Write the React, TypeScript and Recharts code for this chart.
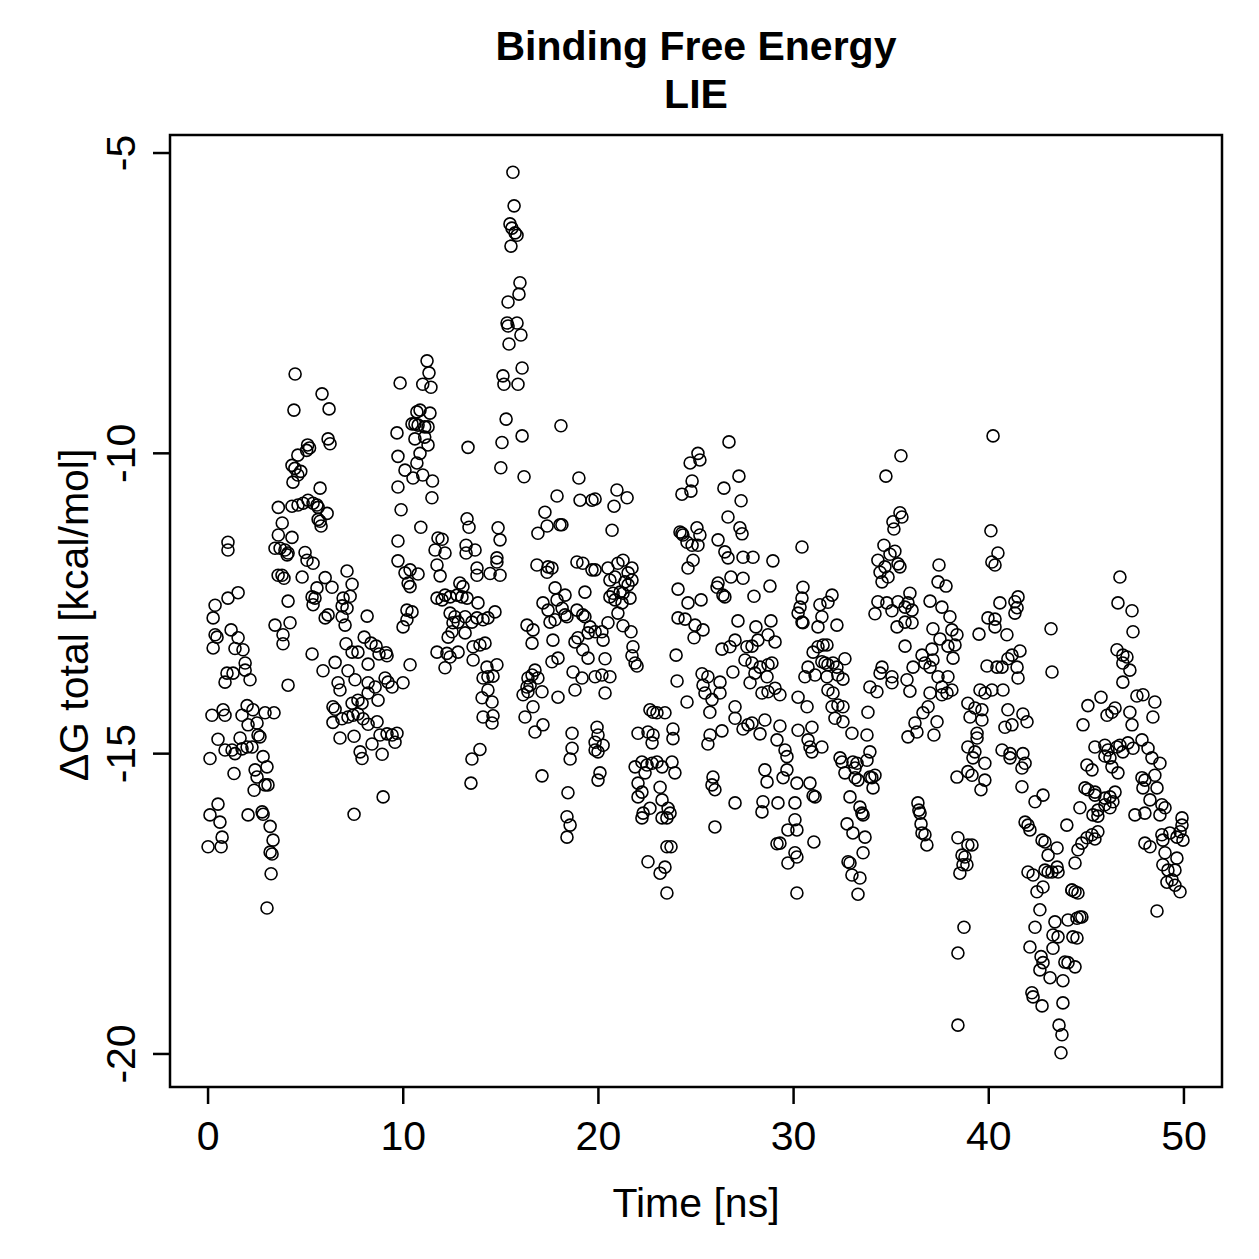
import { ScatterChart, Scatter, XAxis, YAxis, ReferenceArea } from 'recharts';

// LIE binding free energy per frame: [time (ns), dG total (kcal/mol)]
const seg00to10: [number, number][] = [
  [4.46, -8.68], [5.84, -9.01], [4.4, -9.28], [6.2, -9.26], [6.15, -9.76], [6.25, -9.84], [5.1, -9.86], [5.2, -9.91],
  [5.05, -9.95], [4.6, -10.03], [4.3, -10.2], [4.45, -10.25], [4.75, -10.3], [4.6, -10.36], [4.35, -10.48], [5.74, -10.58],
  [3.6, -10.9], [4.3, -10.88], [4.61, -10.86], [4.87, -10.83], [5.12, -10.78], [5.38, -10.83], [5.64, -10.9], [5.58, -10.86],
  [6.1, -11.0], [5.64, -11.1], [5.74, -11.13], [5.79, -11.21], [3.8, -11.16], [3.6, -11.36], [4.3, -11.4],
  [3.43, -11.58], [3.69, -11.58], [3.94, -11.61], [4.05, -11.69], [4.1, -11.66], [1.02, -11.48], [1.02, -11.61],
  [4.97, -11.65], [5.07, -11.78], [5.38, -11.83], [3.59, -12.03], [3.79, -12.03], [3.89, -12.08], [4.82, -12.06], [7.12, -11.96],
  [7.38, -12.18], [7.28, -12.38], [6.92, -12.41], [6.87, -12.54], [7.12, -12.58], [6.0, -12.07], [6.35, -12.23],
  [5.58, -12.24], [5.33, -12.39], [5.48, -12.41], [5.38, -12.52], [4.1, -12.46], [1.54, -12.32], [1.02, -12.41],
  [0.36, -12.53], [0.26, -12.74], [3.43, -12.86], [4.2, -12.82], [3.84, -13.02], [3.84, -13.17],
  [6.0, -12.74], [6.15, -12.69], [6.87, -12.72], [7.02, -12.86], [8.15, -12.71],
  [1.18, -12.94], [1.54, -13.07], [1.38, -13.25], [1.79, -13.27], [1.9, -13.49], [0.36, -13.02], [0.46, -13.06], [0.26, -13.24],
  [5.33, -13.34], [7.07, -13.17], [7.38, -13.31], [7.68, -13.31], [8.0, -13.06], [8.35, -13.16], [8.61, -13.21], [8.76, -13.34],
  [9.12, -13.32], [9.17, -13.37], [8.2, -13.51], [5.89, -13.62], [6.51, -13.48], [6.66, -13.82], [7.17, -13.62], [6.76, -13.94],
  [0.97, -13.66], [1.28, -13.66], [1.9, -13.61], [2.15, -13.77], [0.87, -13.81], [4.1, -13.86],
  [7.53, -13.77], [8.2, -13.82], [8.56, -13.89], [9.07, -13.74], [9.22, -13.81], [9.43, -13.89],
  [0.2, -14.36], [0.77, -14.27], [0.87, -14.36], [1.74, -14.36], [2.0, -14.2], [2.3, -14.27], [2.92, -14.32], [3.38, -14.32],
  [2.05, -14.52], [2.51, -14.49], [2.56, -14.69], [2.66, -14.72], [1.64, -14.74], [0.51, -14.76],
  [0.87, -14.94], [1.23, -14.94], [1.38, -15.0], [1.74, -14.92], [2.0, -14.89], [2.25, -14.89], [0.1, -15.08], [1.33, -15.33],
  [2.82, -15.05], [3.02, -15.22], [2.41, -15.27], [2.51, -15.39], [2.36, -15.61], [2.92, -15.52], [3.07, -15.52],
  [0.51, -15.84], [0.1, -16.02], [0.61, -16.14], [0.72, -16.39], [0.0, -16.55], [0.67, -16.55],
  [2.05, -16.02], [2.77, -15.97], [2.82, -16.01], [3.18, -16.21], [3.33, -16.44], [3.18, -16.64], [3.28, -16.67],
  [3.23, -17.0], [3.02, -17.57],
  [6.4, -14.22], [6.51, -14.26], [7.38, -14.16], [7.68, -14.11], [7.89, -14.16], [8.2, -13.99], [8.71, -14.11],
  [6.86, -14.42], [7.17, -14.39], [7.43, -14.36], [7.68, -14.34], [7.94, -14.42], [8.2, -14.51], [8.66, -14.47],
  [6.4, -14.48], [6.76, -14.74], [7.48, -14.71], [8.4, -14.84], [8.81, -14.69], [9.17, -14.67], [9.43, -14.69],
  [8.92, -15.01], [7.79, -14.97], [7.89, -15.08], [8.97, -15.72], [7.48, -16.01],
  [9.84, -8.83], [9.68, -9.66], [9.73, -10.05], [9.73, -10.56], [9.89, -10.94], [9.73, -11.46], [9.73, -11.79],
  [9.99, -12.89], [9.99, -13.82], [9.68, -14.66], [9.58, -14.81],
];

const seg10to20: [number, number][] = [
  [15.62, -5.32], [15.68, -5.88], [15.47, -6.18], [15.57, -6.25], [15.73, -6.33], [15.83, -6.37], [15.52, -6.55],
  [15.98, -7.16], [15.93, -7.35], [15.37, -7.48], [15.32, -7.83], [15.37, -7.88], [15.83, -7.83], [16.03, -8.03], [15.42, -8.18],
  [16.09, -8.58], [15.11, -8.71], [15.16, -8.85], [15.88, -8.85], [15.27, -9.43], [15.06, -9.82], [16.09, -9.71],
  [15.0, -10.24], [16.19, -10.39],
  [11.22, -8.46], [11.32, -8.66], [11.0, -8.85], [11.42, -8.9], [10.7, -9.31], [10.86, -9.28], [11.37, -9.33],
  [10.45, -9.51], [10.6, -9.51], [10.76, -9.53], [11.1, -9.56], [11.27, -9.56], [10.6, -9.76], [11.1, -9.73], [11.27, -9.86],
  [10.86, -10.0], [10.7, -10.16], [10.09, -10.28], [10.5, -10.41], [11.0, -10.36], [11.5, -10.46], [11.47, -10.74],
  [13.32, -9.9], [18.08, -9.54], [10.9, -11.23],
  [13.27, -11.09], [13.37, -11.23], [13.22, -11.53], [13.68, -11.61], [13.22, -11.66],
  [11.78, -11.41], [11.99, -11.43], [11.63, -11.61], [12.14, -11.66], [14.86, -11.24], [14.96, -11.44], [14.8, -11.74],
  [17.88, -10.71], [17.26, -10.98], [16.9, -11.33], [17.37, -11.21], [18.03, -11.19], [18.13, -11.19],
  [19.0, -10.41], [19.06, -10.78], [19.67, -10.78],
  [11.73, -11.86], [11.89, -12.04], [10.09, -11.99], [10.35, -11.94], [10.76, -12.01], [10.25, -12.16], [10.35, -12.22],
  [13.78, -11.91], [13.78, -12.03], [14.45, -12.0], [14.96, -12.03], [14.8, -11.81],
  [12.9, -12.16], [13.06, -12.22], [11.73, -12.41], [11.99, -12.44], [12.14, -12.36], [12.4, -12.39], [12.76, -12.36],
  [13.01, -12.39], [13.27, -12.41], [13.83, -12.49], [12.4, -12.66], [12.65, -12.72], [12.55, -12.82], [12.81, -12.81],
  [13.17, -12.72], [13.52, -12.81], [13.78, -12.74], [14.09, -12.77], [14.34, -12.74], [14.7, -12.64], [12.3, -13.06],
  [12.5, -12.97], [13.17, -12.99], [13.58, -13.22], [13.93, -13.19], [14.19, -13.16], [11.73, -13.31], [12.24, -13.33],
  [12.4, -13.39], [12.81, -13.31], [12.14, -13.57], [13.58, -13.44],
  [14.29, -13.56], [14.8, -13.52], [14.09, -13.74], [14.34, -13.72], [14.6, -13.71], [14.34, -13.94], [14.04, -14.07],
  [14.55, -14.14], [14.09, -14.39], [14.6, -14.37], [14.55, -14.49], [13.93, -14.93], [13.52, -15.09], [13.47, -15.49],
  [10.35, -13.52], [10.19, -12.61], [10.45, -12.64], [10.19, -12.77],
  [16.85, -11.86], [17.42, -11.89], [17.62, -11.91], [17.37, -11.98], [18.9, -11.81], [19.2, -11.83], [19.67, -11.94],
  [17.78, -12.24], [18.29, -12.36], [17.16, -12.49], [17.42, -12.61], [17.88, -12.44], [18.14, -12.58], [18.29, -12.69],
  [18.39, -12.72], [18.9, -12.61], [19.2, -12.69], [19.31, -12.72], [19.57, -12.89], [17.52, -12.81], [17.78, -12.77],
  [19.31, -12.31], [19.47, -12.99], [19.83, -12.97], [16.34, -12.86], [16.65, -12.94], [16.6, -13.16], [17.67, -13.11],
  [18.8, -13.14], [18.95, -13.07], [19.2, -13.27], [19.47, -13.41], [17.62, -13.47], [17.93, -13.41],
  [16.75, -13.61], [16.6, -13.69], [16.39, -13.74], [16.9, -13.74], [16.34, -13.89], [16.5, -13.86], [16.14, -14.02],
  [16.39, -13.97], [17.11, -13.97], [16.65, -14.22], [16.24, -14.39], [16.75, -14.64], [17.16, -14.52], [17.93, -14.06],
  [18.7, -13.64], [18.8, -13.94], [19.16, -13.74], [18.65, -14.66], [18.65, -14.91], [18.55, -15.09],
  [17.11, -15.37], [18.44, -15.65], [18.39, -16.05], [18.55, -16.19], [18.39, -16.39],
  [19.83, -10.76], [19.83, -11.94], [19.83, -13.72], [19.93, -14.56], [19.98, -14.69], [19.83, -14.81],
  [19.98, -14.97], [19.98, -15.44], [19.83, -14.94],
];

const seg20to30: [number, number][] = [
  [20.95, -10.61], [21.47, -10.74], [20.8, -10.88], [20.7, -11.28],
  [21.26, -11.78], [21.0, -11.83], [21.72, -11.91], [20.49, -11.91], [21.52, -11.99], [20.85, -12.06], [20.59, -12.11],
  [21.36, -12.14], [21.52, -12.19], [21.72, -12.11], [21.11, -12.31], [21.26, -12.33], [20.75, -12.33], [20.59, -12.39],
  [21.62, -12.41], [20.85, -12.44], [21.21, -12.49], [21.0, -12.66], [20.49, -12.82], [21.26, -12.87], [21.67, -12.97],
  [20.18, -12.97], [20.24, -13.11], [21.77, -13.22], [21.72, -13.37], [21.98, -13.54], [21.88, -13.49], [20.34, -13.42],
  [20.18, -13.69], [20.59, -13.72], [20.34, -13.99], [20.24, -14.86], [20.08, -15.32],
  [26.69, -9.81], [25.1, -10.0], [25.2, -10.11], [24.7, -10.16], [24.8, -10.46], [24.28, -10.68], [24.74, -10.63],
  [27.2, -10.38], [26.43, -10.58], [27.31, -10.79], [26.64, -11.06], [27.25, -11.24], [27.36, -11.34],
  [24.18, -11.31], [24.28, -11.33], [24.33, -11.36], [24.54, -11.48], [25.05, -11.24], [25.2, -11.36], [24.8, -11.53],
  [25.1, -11.53], [24.85, -11.78], [24.59, -11.91],
  [26.13, -11.44], [26.48, -11.64], [26.64, -11.74], [27.41, -11.73], [27.92, -11.73], [28.94, -11.79], [26.79, -12.06],
  [27.41, -12.08], [26.13, -12.16], [26.08, -12.23], [26.48, -12.39], [26.38, -12.36], [27.97, -12.38], [28.79, -12.21],
  [24.08, -12.26], [24.59, -12.49], [25.26, -12.44], [24.08, -12.74], [24.44, -12.76], [24.95, -12.86], [25.36, -12.94],
  [24.9, -13.07], [27.15, -12.79], [28.07, -12.89], [28.84, -12.79], [29.05, -13.14], [28.17, -13.11], [28.69, -13.02],
  [27.87, -13.21], [27.0, -13.11], [26.74, -13.22], [26.33, -13.26], [27.61, -13.22],
  [23.98, -13.36], [24.03, -13.79], [25.31, -13.67], [25.61, -13.72], [25.36, -13.86], [26.23, -13.81], [26.23, -13.99],
  [25.46, -13.99], [26.89, -13.64], [27.51, -13.44], [27.87, -13.49], [28.28, -13.56], [28.69, -13.52], [28.89, -13.49],
  [28.02, -13.66], [28.64, -13.72], [27.77, -13.82], [28.69, -13.97], [29.05, -13.91], [28.38, -13.99], [29.3, -14.02],
  [22.64, -14.27], [22.8, -14.31], [23.0, -14.32], [23.41, -14.32], [22.03, -14.66], [22.54, -14.64], [22.8, -14.69],
  [22.75, -14.82], [23.82, -14.59], [23.82, -14.75],
  [21.88, -15.22], [22.23, -15.14], [22.49, -15.19], [22.75, -15.16], [23.0, -15.14], [23.26, -15.22], [23.77, -15.14],
  [23.92, -15.32], [22.39, -15.32], [22.03, -15.49], [22.23, -15.64], [23.16, -15.56], [23.26, -15.77], [22.03, -15.72],
  [22.64, -15.91], [22.29, -15.99], [22.23, -16.07], [23.26, -16.07], [23.51, -16.07], [23.57, -15.91], [23.67, -15.99],
  [23.51, -16.55], [23.72, -16.55], [22.54, -16.8], [23.41, -16.89], [23.16, -16.99], [23.51, -17.32],
  [24.54, -14.14], [25.82, -14.1], [25.71, -14.31], [27.0, -14.22], [27.0, -14.41],
  [25.72, -14.69], [26.33, -14.62], [25.61, -14.84], [27.41, -14.59], [27.66, -14.52], [27.87, -14.49], [28.28, -14.67],
  [28.53, -14.44], [29.15, -14.77], [29.3, -14.54], [29.56, -14.94], [29.66, -15.05],
  [25.87, -15.39], [25.82, -15.52], [25.97, -15.6], [27.0, -15.82], [25.97, -16.22],
  [28.53, -15.27], [28.64, -15.47], [29.46, -15.4], [29.66, -15.27], [28.43, -15.8], [28.38, -15.97], [29.2, -15.82],
  [29.71, -16.27], [29.15, -16.5], [29.3, -16.49], [29.71, -16.82],
];

const seg30to40: [number, number][] = [
  [35.5, -10.04], [34.73, -10.38], [35.45, -10.99], [35.55, -11.06], [35.09, -11.14], [35.14, -11.26],
  [34.63, -11.53], [35.19, -11.63], [34.94, -11.68], [34.32, -11.78], [35.35, -11.84], [35.45, -11.89], [34.68, -11.89],
  [34.43, -11.98], [34.84, -12.06], [34.53, -12.14], [37.45, -11.86], [37.4, -12.14], [37.81, -12.21], [30.43, -11.56],
  [30.48, -12.23], [30.43, -12.41], [30.33, -12.56], [30.23, -12.66], [30.43, -12.81], [30.48, -12.82],
  [31.97, -12.36], [31.76, -12.48], [31.35, -12.52], [31.45, -12.72], [31.25, -12.89], [32.22, -12.86],
  [34.32, -12.47], [34.78, -12.49], [35.04, -12.62], [34.17, -12.67], [35.35, -12.47], [35.71, -12.56], [35.96, -12.33],
  [36.07, -12.61], [35.86, -12.49], [35.3, -12.89], [35.71, -12.81], [36.07, -12.82],
  [36.99, -12.46], [37.6, -12.56], [38.01, -12.72], [37.14, -12.92], [37.5, -13.09], [38.11, -12.94], [38.37, -13.02],
  [37.91, -13.21], [38.27, -13.19], [38.17, -13.41], [35.71, -13.21],
  [39.5, -13.01], [39.96, -12.74], [39.91, -13.54],
  [31.25, -13.22], [31.51, -13.19], [31.71, -13.19], [31.0, -13.31], [31.45, -13.47], [31.61, -13.49], [31.76, -13.52],
  [32.02, -13.49], [32.22, -13.56], [32.63, -13.42], [30.74, -13.56], [30.58, -13.72], [31.1, -13.69], [31.71, -13.72],
  [32.27, -13.69], [32.53, -13.76], [31.76, -13.94], [32.02, -13.99], [30.23, -14.06],
  [34.53, -13.56], [34.43, -13.66], [35.04, -13.72], [35.04, -13.82], [33.91, -13.89], [34.27, -13.97], [35.81, -13.77],
  [35.96, -13.96], [36.12, -13.56], [36.58, -13.36], [37.09, -13.26], [36.73, -13.49], [36.99, -13.56], [37.14, -13.44],
  [37.4, -13.72], [37.91, -13.72], [37.6, -13.89], [38.11, -13.94], [36.99, -13.99], [37.86, -13.99],
  [39.55, -13.94], [39.81, -13.99],
  [30.69, -14.22], [30.23, -14.61], [30.94, -14.56], [30.74, -14.77], [30.84, -14.89], [31.45, -14.89], [30.94, -14.97],
  [30.17, -15.49], [30.84, -15.49], [31.0, -15.7], [31.1, -15.72], [30.07, -15.82], [30.07, -16.1], [30.17, -16.27],
  [31.04, -16.47], [30.07, -16.65], [30.17, -16.72], [30.17, -17.32],
  [31.97, -14.22], [32.27, -14.19], [32.53, -14.22], [32.12, -14.41], [32.53, -14.47], [32.99, -14.66], [33.76, -14.69],
  [33.81, -14.31], [32.38, -15.07], [32.48, -15.14], [33.04, -15.14], [33.25, -15.16], [33.15, -15.24], [33.76, -15.11],
  [33.91, -14.97], [32.63, -15.32], [33.15, -15.4], [33.3, -15.44], [33.91, -15.39], [34.01, -15.4], [34.17, -15.36],
  [34.07, -15.57], [32.89, -15.72], [33.4, -15.89], [33.5, -15.99], [33.56, -16.02], [32.74, -16.17], [33.04, -16.32],
  [33.66, -16.39], [33.56, -16.65], [32.79, -16.8], [32.89, -16.82], [32.99, -17.02], [33.4, -17.07], [33.3, -17.34],
  [36.22, -14.49], [36.63, -14.32], [36.89, -14.22], [37.35, -14.47], [37.19, -14.69], [35.86, -14.72], [36.32, -14.64],
  [37.6, -14.02], [36.37, -15.82], [36.42, -15.94], [36.48, -15.99], [36.53, -16.17], [36.58, -16.32], [36.73, -16.35],
  [36.83, -16.52],
  [38.93, -14.16], [39.29, -14.24], [39.65, -14.44], [39.04, -14.39], [39.65, -14.27], [39.4, -14.66], [39.4, -14.74],
  [38.93, -14.89], [39.29, -14.97], [39.19, -15.07], [39.8, -15.16], [38.37, -15.39], [38.93, -15.3], [39.14, -15.36],
  [39.8, -15.44], [39.6, -15.6], [38.42, -16.4], [38.93, -16.52], [39.14, -16.52], [38.63, -16.69], [38.78, -16.72],
  [38.68, -16.85], [38.88, -16.85], [38.52, -16.99], [38.73, -17.89], [38.42, -18.32], [38.42, -19.52],
];

const seg40to50: [number, number][] = [
  [40.22, -9.71], [40.11, -11.29], [40.16, -11.81], [40.32, -11.86], [40.47, -11.66], [40.32, -12.76], [40.42, -13.56],
  [40.16, -13.94],
  [46.72, -12.06], [46.62, -12.49], [47.34, -12.62], [47.39, -12.97], [43.19, -12.92],
  [40.57, -12.49], [41.34, -12.47], [41.5, -12.39], [41.45, -12.57], [41.34, -12.66], [40.32, -12.89], [40.93, -13.02],
  [41.6, -13.29], [41.19, -13.36], [40.98, -13.42], [40.68, -13.56], [41.45, -13.56], [41.5, -13.74], [40.73, -13.94],
  [43.24, -13.64], [46.57, -13.27], [46.87, -13.36], [47.08, -13.39], [46.87, -13.49], [47.23, -13.61], [46.87, -13.81],
  [45.75, -14.06], [47.59, -14.04], [47.9, -14.02], [48.51, -14.14],
  [40.98, -14.27], [41.75, -14.34], [41.96, -14.47], [41.19, -14.52], [40.83, -14.56],
  [40.68, -14.94], [41.09, -15.0], [41.09, -15.07], [41.75, -15.0], [41.86, -15.16], [41.7, -15.24], [41.7, -15.55],
  [42.78, -15.69], [42.37, -15.8],
  [41.86, -16.14], [42.01, -16.19], [42.11, -16.27], [42.73, -16.44], [42.88, -16.47], [43.04, -16.69], [43.5, -16.57],
  [42.01, -16.97], [42.27, -17.02], [42.88, -16.94], [43.04, -16.97], [43.5, -16.89], [43.55, -16.97], [42.47, -17.3],
  [42.78, -17.22], [43.24, -16.97],
  [42.62, -17.6], [42.37, -17.89], [43.39, -17.8], [43.29, -18.02], [43.55, -18.05], [42.11, -18.22], [43.29, -18.24],
  [42.68, -18.38], [42.78, -18.48], [42.62, -18.6], [43.14, -18.73], [43.8, -18.78], [43.9, -18.47], [44.06, -18.48],
  [44.42, -18.55], [44.06, -17.77], [44.52, -17.74], [44.67, -17.72], [44.77, -17.72], [44.31, -18.05], [44.52, -18.07],
  [44.26, -17.27], [44.42, -17.3], [44.57, -17.32],
  [42.21, -18.98], [42.27, -19.05], [42.73, -19.2], [43.8, -19.15], [43.6, -19.52], [43.75, -19.68], [43.7, -19.98],
  [45.08, -14.2], [46.06, -14.36], [46.31, -14.31], [46.47, -14.24], [44.83, -14.52], [47.23, -14.31], [48.41, -14.39],
  [47.34, -14.52], [45.44, -14.89], [45.95, -14.86], [46.11, -14.94], [46.57, -14.89], [46.72, -14.86], [46.87, -14.97],
  [47.13, -14.82], [47.39, -14.91], [47.85, -14.77], [48.16, -14.91], [48.36, -15.07], [48.77, -15.16], [45.95, -15.04],
  [46.21, -15.07], [46.31, -15.22], [46.62, -15.32], [45.03, -15.19], [45.29, -15.27], [47.85, -15.4], [48.0, -15.44],
  [48.51, -15.36], [48.62, -15.57], [47.9, -15.57], [44.93, -15.57], [45.08, -15.6], [45.44, -15.64], [45.44, -15.69],
  [45.95, -15.74], [46.21, -15.72], [46.36, -15.8], [46.21, -15.9], [46.47, -15.64], [45.95, -15.85], [45.59, -15.94],
  [44.67, -15.9], [45.59, -16.04], [45.34, -16.02], [47.49, -16.02], [48.0, -15.99], [48.26, -15.77], [48.87, -15.85],
  [49.03, -15.9], [48.77, -16.02], [45.59, -16.3], [45.29, -16.35], [45.44, -16.42], [45.03, -16.4], [44.77, -16.49],
  [44.57, -16.6], [44.42, -16.82], [48.0, -16.49], [48.26, -16.55], [48.87, -16.35], [48.92, -16.44], [49.28, -16.32],
  [49.64, -16.39], [49.8, -16.3], [49.95, -16.44], [49.9, -16.07], [49.9, -16.19], [49.03, -16.65], [48.92, -16.85],
  [49.18, -16.94], [49.13, -17.14], [49.39, -17.1], [49.54, -17.19], [49.8, -17.3], [49.54, -16.94], [49.64, -16.74],
  [48.62, -17.62], [44.0, -16.19], [44.26, -17.27],
];

const xTicks = [0, 10, 20, 30, 40, 50];
const yTicks = [-20, -15, -10, -5];
const xDomain: [number, number] = [-1.95, 51.95];
const yDomain: [number, number] = [-20.55, -4.7];

const FONT = '"Liberation Sans", Arial, Helvetica, sans-serif';
const FONT_SIZE = 41;

const points = [...seg00to10, ...seg10to20, ...seg20to30, ...seg30to40, ...seg40to50].map(([t, dg]) => ({ t, dg }));

const XTick = (props: any) => {
  const { x, y, payload } = props;
  return (
    <text x={x} y={y} dy={29} textAnchor="middle" fontFamily={FONT} fontSize={FONT_SIZE} fill="#000">
      {payload.value}
    </text>
  );
};

const YTick = (props: any) => {
  const { x, y, payload } = props;
  return (
    <text x={x} y={y} transform={`rotate(-90 ${x} ${y})`} textAnchor="middle" fontFamily={FONT} fontSize={FONT_SIZE} fill="#000">
      {payload.value}
    </text>
  );
};

const OpenCircle = (props: any) => (
  <circle cx={props.cx} cy={props.cy} r={6} fill="none" stroke="#000" strokeWidth={1.6} />
);

const App = () => (
  <div style={{ position: 'absolute', left: 0, top: 0, width: 1259, height: 1259, background: '#fff' }}>
    <ScatterChart width={1259} height={1259} margin={{ top: 135, right: 37, bottom: 0, left: 0 }}>
      <XAxis
        type="number"
        dataKey="t"
        domain={xDomain}
        ticks={xTicks}
        allowDataOverflow
        interval={0}
        height={172}
        axisLine={false}
        tickLine={{ stroke: '#000', strokeWidth: 2.5 }}
        tickSize={17}
        tickMargin={17}
        tick={<XTick />}
      />
      <YAxis
        type="number"
        dataKey="dg"
        domain={yDomain}
        ticks={yTicks}
        allowDataOverflow
        interval={0}
        width={170}
        axisLine={false}
        tickLine={{ stroke: '#000', strokeWidth: 2.5 }}
        tickSize={17}
        tickMargin={18}
        tick={<YTick />}
      />
      <ReferenceArea
        x1={xDomain[0]}
        x2={xDomain[1]}
        y1={yDomain[0]}
        y2={yDomain[1]}
        ifOverflow="visible"
        fill="none"
        stroke="#000"
        strokeWidth={2.5}
      />
      <Scatter data={points} shape={OpenCircle} isAnimationActive={false} />
    </ScatterChart>
    <svg width={1259} height={1259} style={{ position: 'absolute', left: 0, top: 0, pointerEvents: 'none' }}>
      <g fontFamily={FONT} fontSize={FONT_SIZE} fill="#000" textAnchor="middle">
        <text x={696} y={60} fontWeight="bold">Binding Free Energy</text>
        <text x={696} y={108} fontWeight="bold">LIE</text>
        <text x={696} y={1217}>Time [ns]</text>
        <text x={88} y={615} transform="rotate(-90 88 615)">ΔG total [kcal/mol]</text>
      </g>
    </svg>
  </div>
);

export default App;
